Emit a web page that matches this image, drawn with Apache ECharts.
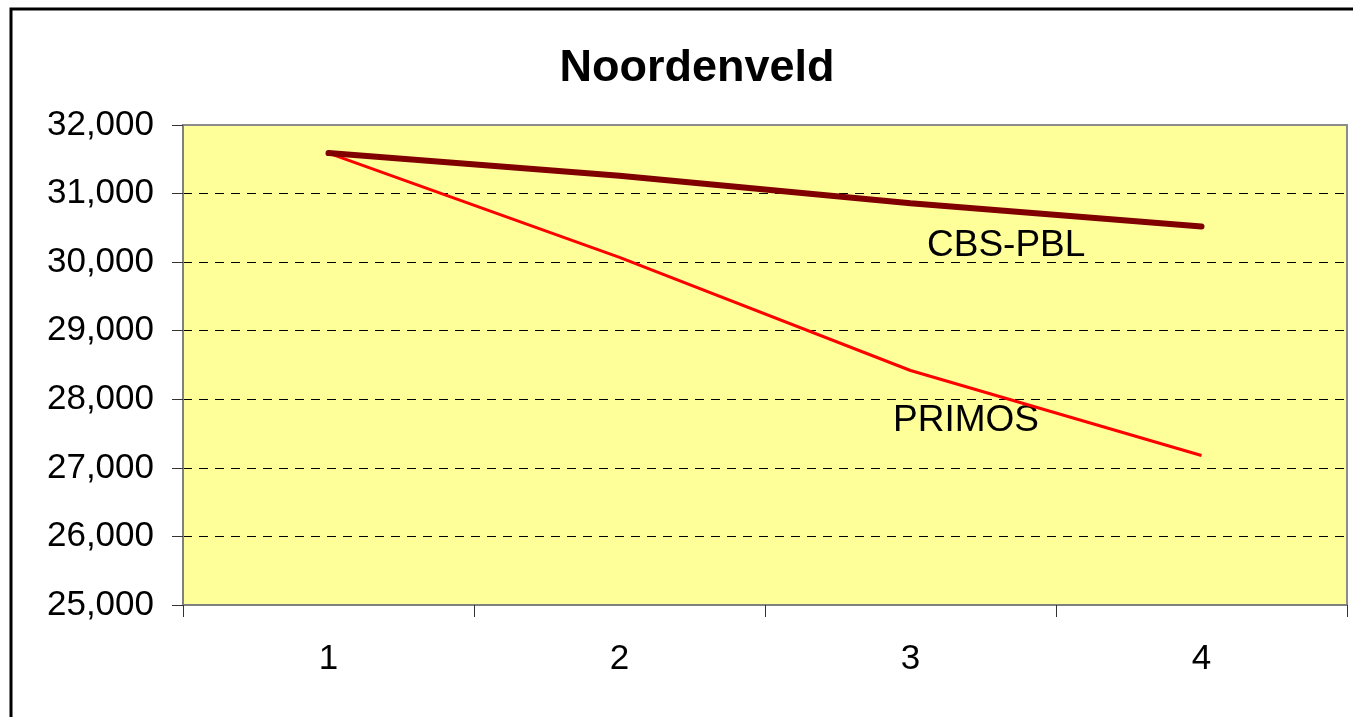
<!DOCTYPE html>
<html>
<head>
<meta charset="utf-8">
<script src="https://cdn.jsdelivr.net/npm/echarts@6/dist/echarts.min.js"></script>
<style>
  html, body { margin: 0; padding: 0; background: #fff; }
  #chart { width: 1353px; height: 717px; }
</style>
</head>
<body>
<div id="chart"></div>
<script>
// data
var categories = ['1', '2', '3', '4'];
var cbsPbl = [31590, 31260, 30860, 30520];
var primos = [31590, 30070, 28420, 27180];
var yTicks = { min: 25000, max: 32000, step: 1000 };

var font = '"Liberation Sans", Arial, sans-serif';
var chart = echarts.init(document.getElementById('chart'));

chart.setOption({
  animation: false,
  backgroundColor: '#fff',
  title: {
    text: 'Noordenveld',
    left: 692,
    top: 41,
    textAlign: 'center',
    textStyle: { fontFamily: font, fontSize: 45, fontWeight: 'bold', color: '#000' }
  },
  grid: {
    left: 183, top: 125, right: 6, bottom: 112,
    show: true,
    backgroundColor: '#ffff99',
    borderColor: '#8c8c8c',
    borderWidth: 2
  },
  xAxis: {
    type: 'category',
    data: categories,
    boundaryGap: true,
    axisLine: { lineStyle: { color: '#808080', width: 2 } },
    axisTick: { show: true, length: 12, lineStyle: { color: '#333' } },
    axisLabel: { fontFamily: font, fontSize: 35, color: '#000', margin: 37 },
    splitLine: { show: false }
  },
  yAxis: {
    type: 'value',
    min: yTicks.min,
    max: yTicks.max,
    interval: yTicks.step,
    axisLine: { show: true, lineStyle: { color: '#808080', width: 2 } },
    axisTick: { show: true, length: 11, lineStyle: { color: '#333' } },
    axisLabel: {
      fontFamily: font, fontSize: 35, color: '#000', margin: 29,
      formatter: function (v) { return v.toLocaleString('en-US'); }
    },
    splitLine: {
      show: true,
      showMinLine: false,
      showMaxLine: false,
      lineStyle: { color: '#000', type: [9, 7], width: 1 }
    }
  },
  series: [
    {
      name: 'PRIMOS',
      type: 'line',
      data: primos,
      symbol: 'none',
      lineStyle: { color: '#ff0000', width: 3 }
    },
    {
      name: 'CBS-PBL',
      type: 'line',
      data: cbsPbl,
      symbol: 'none',
      lineStyle: { color: '#800000', width: 6, cap: 'round' }
    }
  ],
  graphic: [
    {
      type: 'rect',
      shape: { x: 11, y: 9, width: 1400, height: 800 },
      style: { fill: 'none', stroke: '#000', lineWidth: 3 },
      z: 100
    },
    {
      type: 'text', left: 927, top: 227,
      style: { text: 'CBS-PBL', font: '37px ' + font, fill: '#000' }
    },
    {
      type: 'text', left: 893, top: 402,
      style: { text: 'PRIMOS', font: '37px ' + font, fill: '#000' }
    }
  ]
});
</script>
</body>
</html>
